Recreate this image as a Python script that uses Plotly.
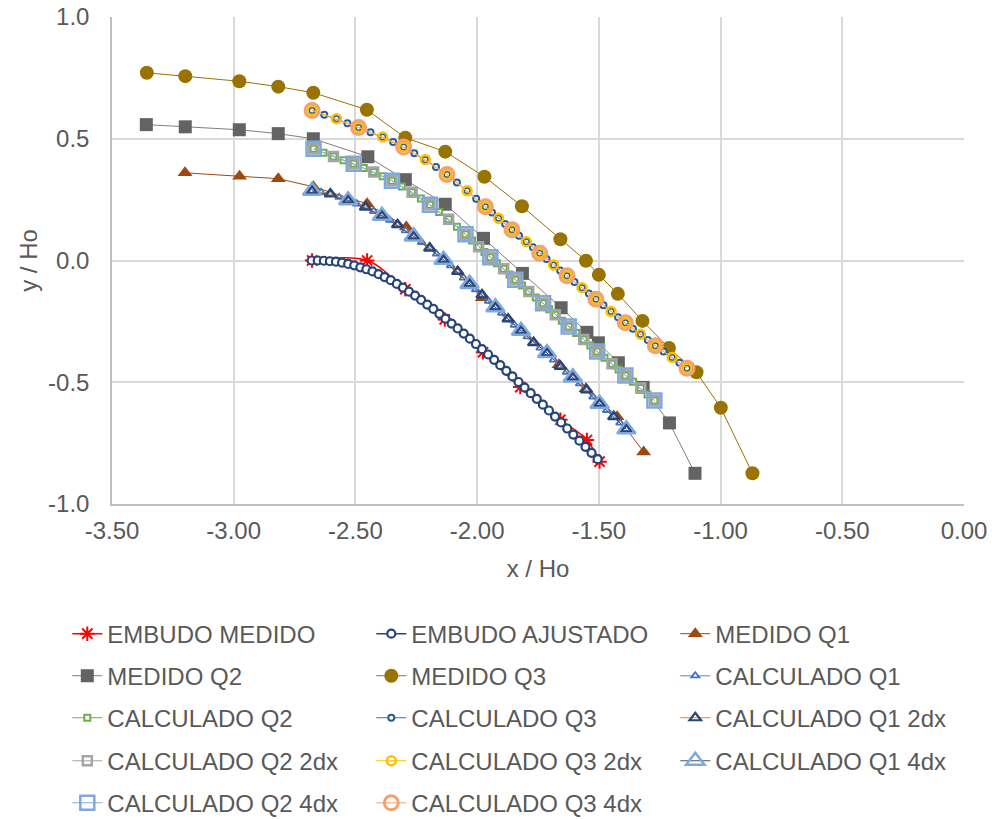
import plotly.graph_objects as go

# ---- axis ticks ----
x_tick_vals = [-3.5, -3.0, -2.5, -2.0, -1.5, -1.0, -0.5, 0.0]
x_tick_text = ["-3.50", "-3.00", "-2.50", "-2.00", "-1.50", "-1.00", "-0.50", "0.00"]
y_tick_vals = [-1.0, -0.5, 0.0, 0.5, 1.0]
y_tick_text = ["-1.0", "-0.5", "0.0", "0.5", "1.0"]

# ---- measured funnel ----
embudo_medido_x = [-2.678, -2.452, -2.295, -2.133, -1.976, -1.823, -1.658, -1.549, -1.497]
embudo_medido_y = [0.000, 0.000, -0.118, -0.242, -0.377, -0.520, -0.654, -0.737, -0.826]

# ---- fitted funnel ----
embudo_ajustado_x = [-2.680, -2.655, -2.630, -2.605, -2.580, -2.555, -2.530, -2.505, -2.480, -2.455,
                     -2.430, -2.405, -2.380, -2.355, -2.330, -2.305, -2.280, -2.255, -2.230, -2.205,
                     -2.180, -2.155, -2.130, -2.105, -2.080, -2.055, -2.030, -2.005, -1.980, -1.955,
                     -1.930, -1.905, -1.880, -1.855, -1.830, -1.805, -1.780, -1.755, -1.730, -1.705,
                     -1.680, -1.655, -1.630, -1.605, -1.580, -1.555, -1.530, -1.505]
embudo_ajustado_y = [0.000, 0.000, -0.001, -0.003, -0.005, -0.009, -0.014, -0.020, -0.028, -0.036,
                     -0.045, -0.056, -0.068, -0.081, -0.096, -0.111, -0.128, -0.144, -0.162, -0.181,
                     -0.199, -0.219, -0.239, -0.259, -0.279, -0.300, -0.321, -0.343, -0.364, -0.386,
                     -0.408, -0.430, -0.453, -0.476, -0.499, -0.522, -0.545, -0.568, -0.592, -0.616,
                     -0.641, -0.665, -0.690, -0.715, -0.740, -0.765, -0.790, -0.816]

# ---- measured profiles ----
medido_q1_x = [-3.200, -2.976, -2.817, -2.673, -2.452, -2.291, -2.131, -1.979, -1.818, -1.664,
               -1.553, -1.425, -1.316]
medido_q1_y = [0.360, 0.346, 0.336, 0.303, 0.233, 0.138, -0.005, -0.153, -0.297, -0.428,
               -0.527, -0.642, -0.786]

medido_q2_x = [-3.359, -3.199, -2.977, -2.817, -2.673, -2.449, -2.295, -2.131, -1.974, -1.814,
               -1.655, -1.549, -1.502, -1.420, -1.318, -1.210, -1.105]
medido_q2_y = [0.558, 0.549, 0.537, 0.521, 0.500, 0.426, 0.332, 0.231, 0.091, -0.053,
               -0.194, -0.295, -0.338, -0.420, -0.521, -0.667, -0.874]

medido_q3_x = [-3.357, -3.199, -2.977, -2.817, -2.673, -2.453, -2.295, -2.131, -1.970, -1.816,
               -1.658, -1.553, -1.500, -1.422, -1.321, -1.212, -1.099, -0.999, -0.869]
medido_q3_y = [0.771, 0.757, 0.736, 0.714, 0.689, 0.619, 0.504, 0.447, 0.344, 0.223,
               0.087, -0.001, -0.059, -0.137, -0.248, -0.359, -0.459, -0.605, -0.874]

# ---- calculated profiles, step dx ----
calc_q1_x = [-2.678, -2.641, -2.603, -2.567, -2.530, -2.495, -2.459, -2.425, -2.391, -2.359,
             -2.327, -2.294, -2.261, -2.228, -2.195, -2.167, -2.138, -2.109, -2.080, -2.056,
             -2.031, -2.006, -1.980, -1.953, -1.925, -1.899, -1.873, -1.847, -1.820, -1.794,
             -1.768, -1.741, -1.713, -1.686, -1.658, -1.633, -1.607, -1.579, -1.551, -1.524,
             -1.497, -1.468, -1.439, -1.413, -1.387]
calc_q1_y = [0.286, 0.280, 0.273, 0.260, 0.247, 0.233, 0.219, 0.202, 0.184, 0.166,
             0.147, 0.123, 0.099, 0.075, 0.051, 0.027, 0.003, -0.021, -0.045, -0.071,
             -0.096, -0.119, -0.141, -0.167, -0.192, -0.216, -0.240, -0.265, -0.289, -0.313,
             -0.337, -0.359, -0.380, -0.408, -0.435, -0.458, -0.480, -0.506, -0.531, -0.560,
             -0.588, -0.615, -0.641, -0.667, -0.693]

calc_q2_x = [-2.672, -2.631, -2.590, -2.549, -2.507, -2.466, -2.425, -2.388, -2.350, -2.309,
             -2.267, -2.231, -2.194, -2.156, -2.117, -2.083, -2.048, -2.021, -1.994, -1.970,
             -1.946, -1.919, -1.891, -1.867, -1.843, -1.816, -1.788, -1.759, -1.729, -1.704,
             -1.679, -1.652, -1.624, -1.593, -1.562, -1.535, -1.507, -1.477, -1.446, -1.419,
             -1.391, -1.360, -1.328, -1.300, -1.272]
calc_q2_y = [0.459, 0.443, 0.427, 0.412, 0.397, 0.380, 0.363, 0.346, 0.328, 0.304,
             0.280, 0.255, 0.229, 0.199, 0.169, 0.139, 0.108, 0.082, 0.056, 0.035,
             0.013, -0.011, -0.034, -0.057, -0.079, -0.103, -0.127, -0.152, -0.176, -0.200,
             -0.223, -0.247, -0.271, -0.298, -0.324, -0.349, -0.374, -0.399, -0.424, -0.448,
             -0.472, -0.498, -0.524, -0.550, -0.575]

calc_q3_x = [-2.678, -2.628, -2.578, -2.533, -2.487, -2.438, -2.388, -2.345, -2.302, -2.258,
             -2.213, -2.169, -2.124, -2.083, -2.041, -2.004, -1.966, -1.939, -1.912, -1.885,
             -1.857, -1.828, -1.798, -1.771, -1.743, -1.715, -1.686, -1.659, -1.631, -1.600,
             -1.569, -1.541, -1.512, -1.481, -1.450, -1.421, -1.391, -1.360, -1.329, -1.299,
             -1.268, -1.234, -1.199, -1.169, -1.138]
calc_q3_y = [0.616, 0.599, 0.582, 0.564, 0.546, 0.527, 0.507, 0.487, 0.466, 0.440,
             0.414, 0.384, 0.353, 0.320, 0.286, 0.254, 0.221, 0.197, 0.173, 0.150,
             0.126, 0.102, 0.077, 0.054, 0.030, 0.006, -0.018, -0.041, -0.063, -0.088,
             -0.112, -0.136, -0.159, -0.184, -0.209, -0.233, -0.256, -0.280, -0.303, -0.327,
             -0.350, -0.374, -0.398, -0.420, -0.442]

# ---- calculated profiles, step 2dx ----
calc_q1_2dx_x = [-2.678, -2.603, -2.530, -2.459, -2.391, -2.327, -2.261, -2.195, -2.138, -2.080,
                 -2.031, -1.980, -1.925, -1.873, -1.820, -1.768, -1.713, -1.658, -1.607, -1.551,
                 -1.497, -1.439, -1.387]
calc_q1_2dx_y = [0.286, 0.273, 0.247, 0.219, 0.184, 0.147, 0.099, 0.051, 0.003, -0.045,
                 -0.096, -0.141, -0.192, -0.240, -0.289, -0.337, -0.380, -0.435, -0.480, -0.531,
                 -0.588, -0.641, -0.693]

calc_q2_2dx_x = [-2.672, -2.590, -2.507, -2.425, -2.350, -2.267, -2.194, -2.117, -2.048, -1.994,
                 -1.946, -1.891, -1.843, -1.788, -1.729, -1.679, -1.624, -1.562, -1.507, -1.446,
                 -1.391, -1.328, -1.272]
calc_q2_2dx_y = [0.459, 0.427, 0.397, 0.363, 0.328, 0.280, 0.229, 0.169, 0.108, 0.056,
                 0.013, -0.034, -0.079, -0.127, -0.176, -0.223, -0.271, -0.324, -0.374, -0.424,
                 -0.472, -0.524, -0.575]

calc_q3_2dx_x = [-2.678, -2.578, -2.487, -2.388, -2.302, -2.213, -2.124, -2.041, -1.966, -1.912,
                 -1.857, -1.798, -1.743, -1.686, -1.631, -1.569, -1.512, -1.450, -1.391, -1.329,
                 -1.268, -1.199, -1.138]
calc_q3_2dx_y = [0.616, 0.582, 0.546, 0.507, 0.466, 0.414, 0.353, 0.286, 0.221, 0.173,
                 0.126, 0.077, 0.030, -0.018, -0.063, -0.112, -0.159, -0.209, -0.256, -0.303,
                 -0.350, -0.398, -0.442]

# ---- calculated profiles, step 4dx ----
calc_q1_4dx_x = [-2.678, -2.530, -2.391, -2.261, -2.138, -2.031, -1.925, -1.820, -1.713, -1.607,
                 -1.497, -1.387]
calc_q1_4dx_y = [0.286, 0.247, 0.184, 0.099, 0.003, -0.096, -0.192, -0.289, -0.380, -0.480,
                 -0.588, -0.693]

calc_q2_4dx_x = [-2.672, -2.507, -2.350, -2.194, -2.048, -1.946, -1.843, -1.729, -1.624, -1.507,
                 -1.391, -1.272]
calc_q2_4dx_y = [0.459, 0.397, 0.328, 0.229, 0.108, 0.013, -0.079, -0.176, -0.271, -0.374,
                 -0.472, -0.575]

calc_q3_4dx_x = [-2.678, -2.487, -2.302, -2.124, -1.966, -1.857, -1.743, -1.631, -1.512, -1.391,
                 -1.268, -1.138]
calc_q3_4dx_y = [0.616, 0.546, 0.466, 0.353, 0.221, 0.126, 0.030, -0.063, -0.159, -0.256,
                 -0.350, -0.442]

TEXT = "#595959"
GRID = "#D9D9D9"
FONT = "Liberation Sans, Arial, sans-serif"

fig = go.Figure()


def add(name, x, y, legend, line_color, line_width, symbol, size, fill, edge, edge_w, shape="linear"):
    fig.add_trace(go.Scatter(
        x=x, y=y, name=name, mode="lines+markers", legend=legend,
        line=dict(color=line_color, width=line_width, shape=shape),
        marker=dict(symbol=symbol, size=size, color=fill,
                    line=dict(color=edge, width=edge_w)),
    ))


# row 1
add("EMBUDO MEDIDO", embudo_medido_x, embudo_medido_y, "legend",
    "#FF0000", 1.5, "asterisk-open", 12, "#FF0000", "#FF0000", 2, shape="spline")
add("EMBUDO AJUSTADO", embudo_ajustado_x, embudo_ajustado_y, "legend",
    "#264478", 1.5, "circle", 8, "#FFFFFF", "#264478", 2.2)
add("MEDIDO Q1", medido_q1_x, medido_q1_y, "legend",
    "#9E480E", 1, "triangle-up", 13, "#9E480E", "#9E480E", 0)
# row 2
add("MEDIDO Q2", medido_q2_x, medido_q2_y, "legend2",
    "#7F7F7F", 1, "square", 13, "#636363", "#636363", 0)
add("MEDIDO Q3", medido_q3_x, medido_q3_y, "legend2",
    "#997300", 1, "circle", 14, "#997300", "#997300", 0)
add("CALCULADO Q1", calc_q1_x, calc_q1_y, "legend2",
    "#8FAADC", 1.5, "triangle-up", 7, "#FFFFFF", "#4472C4", 1.8)
# row 3
add("CALCULADO Q2", calc_q2_x, calc_q2_y, "legend3",
    "#70AD47", 1, "square", 6, "#FFFFFF", "#70AD47", 2)
add("CALCULADO Q3", calc_q3_x, calc_q3_y, "legend3",
    "#2E75B6", 1, "circle", 6, "#FFFFFF", "#255E91", 2)
add("CALCULADO Q1 2dx", calc_q1_2dx_x, calc_q1_2dx_y, "legend3",
    "#ED7D31", 1, "triangle-up-open", 10, "#264478", "#264478", 2.2)
# row 4
add("CALCULADO Q2 2dx", calc_q2_2dx_x, calc_q2_2dx_y, "legend4",
    "#A5A5A5", 1, "square-open", 9, "#A5A5A5", "#A5A5A5", 2.5)
add("CALCULADO Q3 2dx", calc_q3_2dx_x, calc_q3_2dx_y, "legend4",
    "#FFC000", 1, "circle-open", 9, "#FFC000", "#FFC000", 2.5)
add("CALCULADO Q1 4dx", calc_q1_4dx_x, calc_q1_4dx_y, "legend4",
    "#44546A", 1, "triangle-up-open", 16, "#7FA9DD", "#7FA9DD", 2.5)
# row 5
add("CALCULADO Q2 4dx", calc_q2_4dx_x, calc_q2_4dx_y, "legend5",
    "#7FA9DD", 1, "square-open", 14, "#7FA9DD", "#7FA9DD", 2.5)
add("CALCULADO Q3 4dx", calc_q3_4dx_x, calc_q3_4dx_y, "legend5",
    "#F4A070", 1, "circle-open", 14, "#F4A070", "#F4A070", 3)

L, R, T, B = 111.7, 28.4, 17.3, 315
W, H = 992, 819
plot_h = H - T - B


def legend_row(py):
    return dict(
        orientation="h", x=(67 - L) / (W - L - R), xanchor="left",
        y=(H - B - py) / plot_h, yanchor="middle",
        entrywidth=259, entrywidthmode="pixels",
        font=dict(family=FONT, size=24, color=TEXT),
        bgcolor="rgba(0,0,0,0)", borderwidth=0, itemclick=False,
    )


fig.update_layout(
    width=W, height=H,
    margin=dict(l=L, r=R, t=T, b=B, autoexpand=False),
    paper_bgcolor="white", plot_bgcolor="white",
    font=dict(family=FONT, size=24, color=TEXT),
    showlegend=True,
    legend=legend_row(634),
    legend2=legend_row(676),
    legend3=legend_row(718),
    legend4=legend_row(761),
    legend5=legend_row(803),
)

fig.update_xaxes(
    range=[-3.5, 0.0], tickvals=x_tick_vals, ticktext=x_tick_text,
    showgrid=True, gridcolor=GRID, gridwidth=1.5, zeroline=False,
    showline=True, linecolor="#BFBFBF", linewidth=1.5,
    ticks="", ticklabelstandoff=4,
    tickfont=dict(family=FONT, size=24, color=TEXT),
    title=dict(text="x / Ho", font=dict(family=FONT, size=24, color=TEXT), standoff=18),
)
fig.update_yaxes(
    range=[-1.0, 1.0], tickvals=y_tick_vals, ticktext=y_tick_text,
    showgrid=True, gridcolor=GRID, gridwidth=1.5, zeroline=False,
    showline=True, linecolor="#BFBFBF", linewidth=1.5,
    ticks="", ticklabelstandoff=16,
    tickfont=dict(family=FONT, size=24, color=TEXT),
    title=dict(text="y / Ho", font=dict(family=FONT, size=24, color=TEXT), standoff=4),
)

fig.write_html("out.html")
